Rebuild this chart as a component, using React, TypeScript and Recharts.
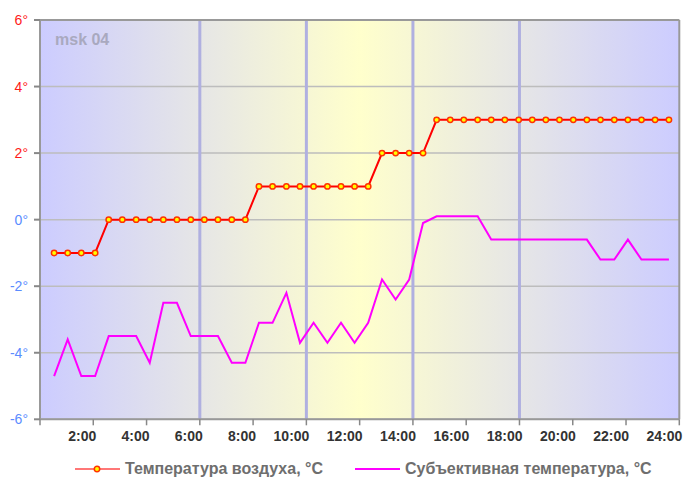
import { LineChart, Line, XAxis, YAxis, CartesianGrid, ReferenceLine } from "recharts";

// observation times, decimal hours
const hours = [
  0.53, 1.04, 1.55, 2.07, 2.58, 3.09, 3.61, 4.12, 4.63, 5.14,
  5.66, 6.17, 6.68, 7.2, 7.71, 8.22, 8.73, 9.25, 9.76, 10.27,
  10.79, 11.3, 11.81, 12.32, 12.84, 13.35, 13.86, 14.38, 14.89, 15.4,
  15.91, 16.43, 16.94, 17.45, 17.97, 18.48, 18.99, 19.5, 20.02, 20.53,
  21.04, 21.56, 22.07, 22.58, 23.09, 23.61,
];

const airTemp = [
  -1, -1, -1, -1, 0, 0, 0, 0, 0, 0,
  0, 0, 0, 0, 0, 1, 1, 1, 1, 1,
  1, 1, 1, 1, 2, 2, 2, 2, 3, 3,
  3, 3, 3, 3, 3, 3, 3, 3, 3, 3,
  3, 3, 3, 3, 3, 3,
];

const feelsTemp = [
  -4.7, -3.6, -4.7, -4.7, -3.5, -3.5, -3.5, -4.3, -2.5, -2.5,
  -3.5, -3.5, -3.5, -4.3, -4.3, -3.1, -3.1, -2.2, -3.7, -3.1,
  -3.7, -3.1, -3.7, -3.1, -1.8, -2.4, -1.8, -0.1, 0.1, 0.1,
  0.1, 0.1, -0.6, -0.6, -0.6, -0.6, -0.6, -0.6, -0.6, -0.6,
  -1.2, -1.2, -0.6, -1.2, -1.2, -1.2,
];

const xTicks = [0, 2, 4, 6, 8, 10, 12, 14, 16, 18, 20, 22, 24];
const yTicks = [-6, -4, -2, 0, 2, 4, 6];
const markHours = [6, 10, 14, 18];
const stationLabel = "msk 04";
const airName = "Температура воздуха, °C";
const feelsName = "Субъективная температура, °C";

const data = hours.map((h, i) => ({ h, air: airTemp[i], feels: feelsTemp[i] }));

const FONT = "'Liberation Sans', Arial, sans-serif";

function XTick(props: any) {
  const { x, y, payload } = props;
  if (payload.value === 0) return <g />;
  return (
    <text x={x + 3} y={y + 13.5} textAnchor="end" fontFamily={FONT} fontSize={14} fontWeight="bold" fill="#333">
      {payload.value}:00
    </text>
  );
}

function YTick(props: any) {
  const { x, y, payload } = props;
  const v = payload.value;
  return (
    <text x={x - 4} y={y} dy="0.36em" textAnchor="end" fontFamily={FONT} fontSize={14} fill={v > 0 ? "#ff1a1a" : "#5b8cff"}>
      {v}°
    </text>
  );
}

export default function App() {
  return (
    <div style={{ position: "absolute", left: 0, top: 0, width: 687, height: 487, fontFamily: FONT }}>
      <LineChart width={687} height={487} data={data} margin={{ top: 20, right: 7.7, left: 0, bottom: 37.7 }}>
        <defs>
          <linearGradient id="dayBg" x1="0" y1="0" x2="1" y2="0">
            <stop offset="0" stopColor="#ccccff" />
            <stop offset="0.25" stopColor="#e6e6e6" />
            <stop offset="0.5" stopColor="#ffffcc" />
            <stop offset="0.75" stopColor="#e6e6e6" />
            <stop offset="1" stopColor="#ccccff" />
          </linearGradient>
        </defs>
        <CartesianGrid vertical={false} fill="url(#dayBg)" fillOpacity={1} stroke="#bdbdbd" strokeWidth={1.5} />
        <XAxis
          dataKey="h"
          type="number"
          domain={[0, 24]}
          ticks={xTicks}
          interval={0}
          height={30}
          tickSize={6}
          tick={<XTick />}
          axisLine={{ stroke: "#999", strokeWidth: 2 }}
          tickLine={{ stroke: "#888", strokeWidth: 1.5 }}
        />
        <YAxis
          type="number"
          domain={[-6, 6]}
          ticks={yTicks}
          interval={0}
          width={40}
          tickSize={6}
          tick={<YTick />}
          axisLine={{ stroke: "#999", strokeWidth: 2 }}
          tickLine={{ stroke: "#888", strokeWidth: 2 }}
        />
        {markHours.map((m) => (
          <ReferenceLine key={m} x={m} stroke="#b0b0e0" strokeWidth={3} />
        ))}
        <ReferenceLine y={6} stroke="#999" strokeWidth={2} />
        <ReferenceLine x={24} stroke="#999" strokeWidth={2} />
        <Line
          type="linear"
          dataKey="feels"
          stroke="#ff00ff"
          strokeWidth={2}
          dot={false}
          isAnimationActive={false}
        />
        <Line
          type="linear"
          dataKey="air"
          stroke="#ff0000"
          strokeWidth={2}
          dot={{ r: 2.7, fill: "#ffff00", stroke: "#ff3300", strokeWidth: 1.5 }}
          isAnimationActive={false}
        />
      </LineChart>

      <div style={{ position: "absolute", left: 55, top: 32, fontSize: 16, lineHeight: "16px", fontWeight: "bold", color: "#a9a9bf" }}>
        {stationLabel}
      </div>

      <div style={{ position: "absolute", left: 75, top: 461, display: "flex", alignItems: "center", height: 16 }}>
        <svg width={45} height={16}>
          <line x1={0} y1={8} x2={45} y2={8} stroke="#ff7777" strokeWidth={2} />
          <circle cx={22} cy={8} r={2.7} fill="#ffff00" stroke="#ff3300" strokeWidth={1.5} />
        </svg>
        <span style={{ marginLeft: 5, fontSize: 16, fontWeight: "bold", color: "#6e6e6e", whiteSpace: "nowrap" }}>{airName}</span>
      </div>
      <div style={{ position: "absolute", left: 355, top: 461, display: "flex", alignItems: "center", height: 16 }}>
        <svg width={45} height={16}>
          <line x1={0} y1={8} x2={45} y2={8} stroke="#ff00ff" strokeWidth={2} />
        </svg>
        <span style={{ marginLeft: 5, fontSize: 16, fontWeight: "bold", color: "#6e6e6e", whiteSpace: "nowrap" }}>{feelsName}</span>
      </div>
    </div>
  );
}
